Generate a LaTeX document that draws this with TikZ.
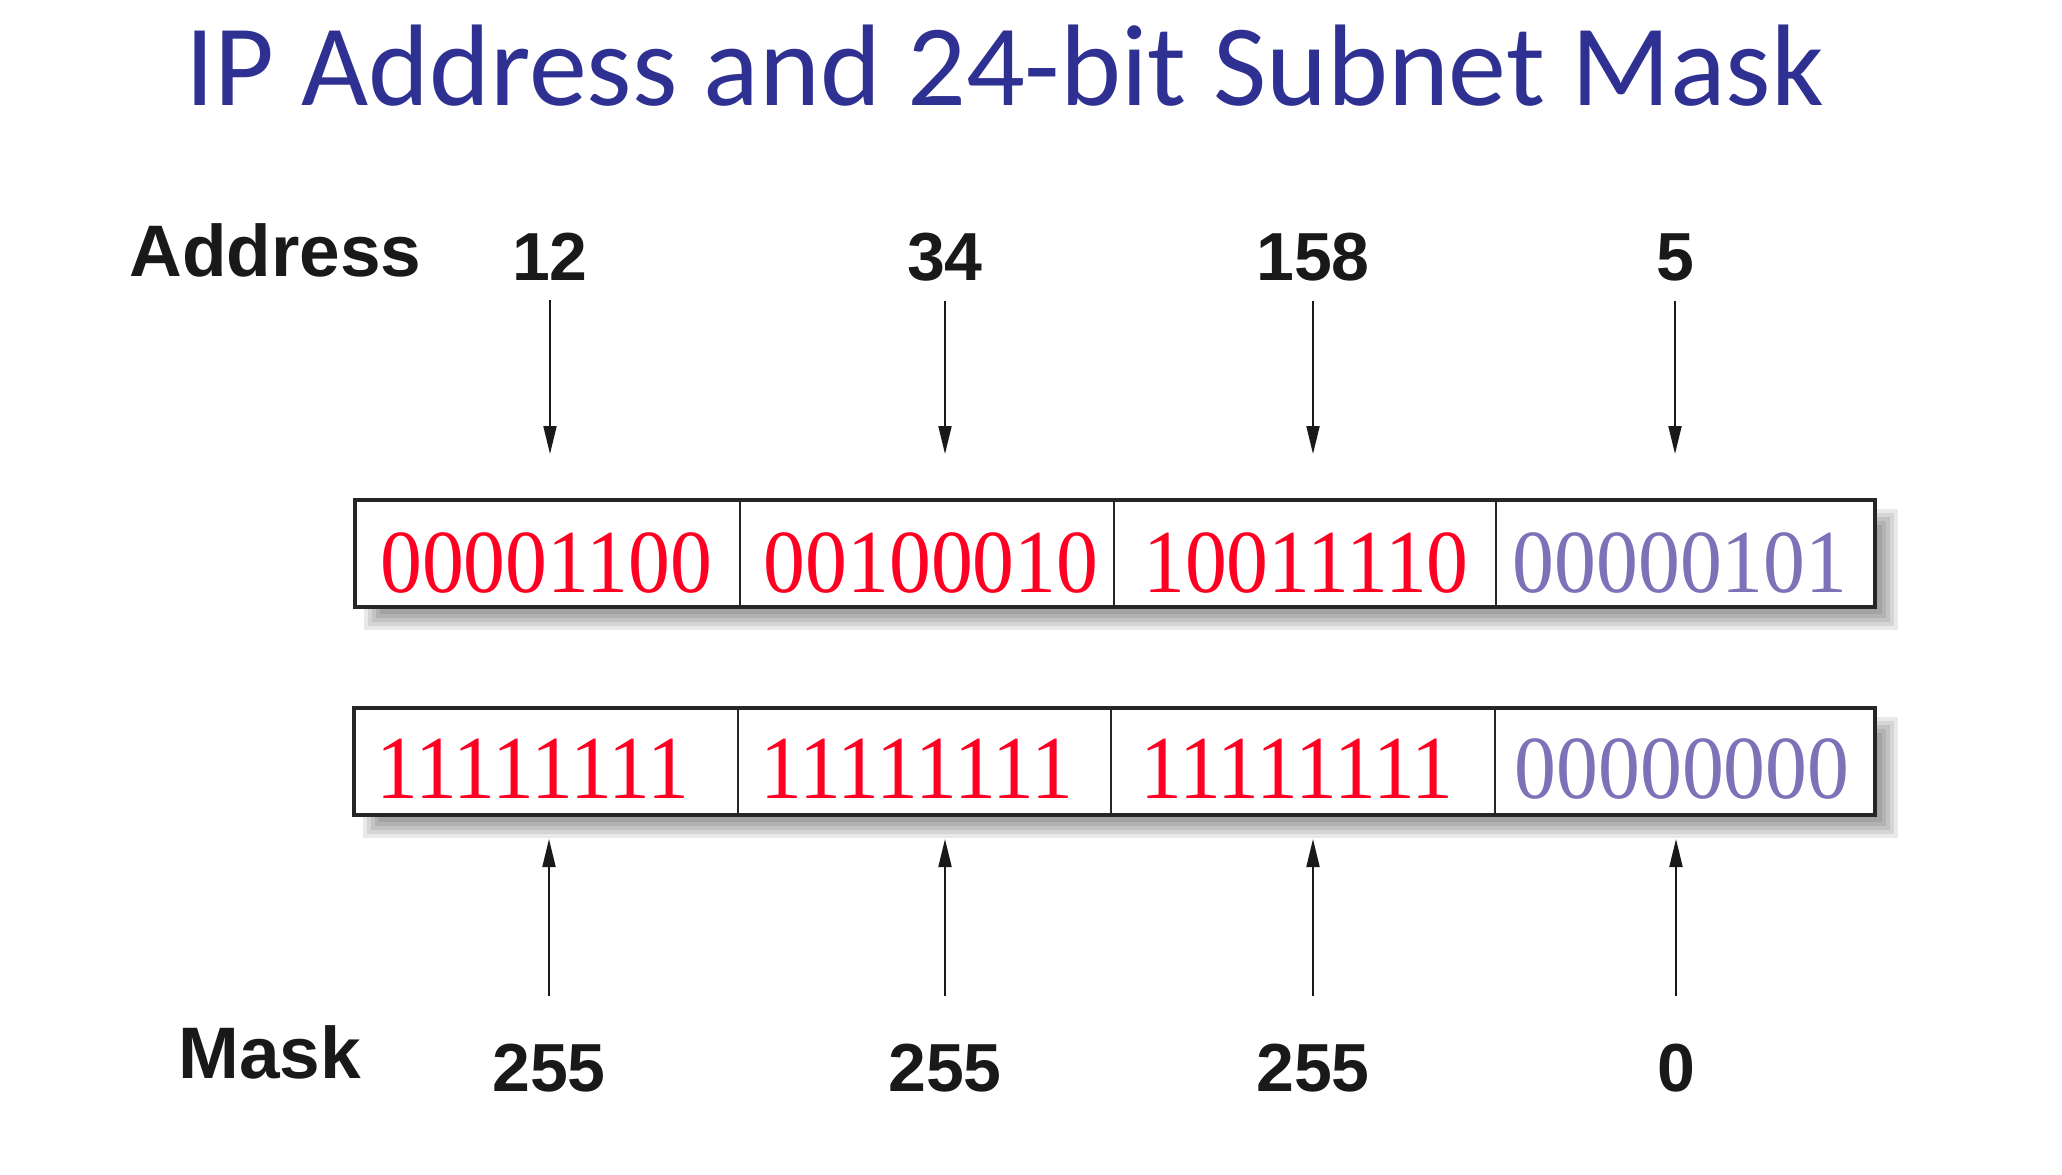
\documentclass[tikz,border=0pt]{standalone}
\usepackage{fontspec}
\setmainfont{Liberation Sans}
\newfontfamily\titlefont{Carlito}
\newfontfamily\binfont[FakeStretch=0.93]{Liberation Serif}
\usetikzlibrary{arrows.meta}
\definecolor{titleblue}{HTML}{2E3192}
\definecolor{bitred}{HTML}{FF0022}
\definecolor{bitpurple}{HTML}{7B72B8}
\begin{document}
\begin{tikzpicture}[x=0.5pt,y=-0.5pt,
 cell/.style={draw=black!85, line width=1pt, fill=white, inner sep=0, minimum height=52.5pt},
 bits/.style={font=\binfont\fontsize{45}{45}\selectfont, anchor=base, inner sep=0},
 num/.style={font=\bfseries\fontsize{34}{34}\selectfont, anchor=base, inner sep=0, text=black!90},
 lab/.style={font=\bfseries\fontsize{36.5}{36.5}\selectfont, anchor=base west, inner sep=0, text=black!90},
 arr/.style={draw=black!90, line width=1pt, -{Triangle[length=14pt,width=6.5pt]}},
 frame/.style={draw=black!85, line width=1.6pt}]
\useasboundingbox (0,0) rectangle (2062,1174);
% title
\node[font=\titlefont\fontsize{58}{58}\selectfont, text=titleblue, anchor=base, inner sep=0] (title) at (1005,105) {IP Address and 24-bit Subnet Mask};
% shadows
\foreach \s in {-8,-4,0,4,8}{
  \fill[black, opacity=0.085] (372-\s,517-\s) rectangle (1890+\s,622+\s);
  \fill[black, opacity=0.085] (371-\s,725-\s) rectangle (1890+\s,830+\s);
}
% address cells
\node[cell, minimum width=192pt] (a1) at (548,553.5) {};
\node[cell, minimum width=187pt] (a2) at (927,553.5) {};
\node[cell, minimum width=191pt] (a3) at (1305,553.5) {};
\node[cell, minimum width=189pt] (a4) at (1685,553.5) {};
\draw[frame] (a1.north west) rectangle (a4.south east);
% mask cells
\node[cell, minimum width=191.5pt] (m1) at (546.5,761.5) {};
\node[cell, minimum width=186.5pt] (m2) at (924.5,761.5) {};
\node[cell, minimum width=192pt] (m3) at (1303,761.5) {};
\node[cell, minimum width=189.5pt] (m4) at (1684.5,761.5) {};
\draw[frame] (m1.north west) rectangle (m4.south east);
% bits
\node[bits, text=bitred] (ba1) at (546,592) {00001100};
\node[bits, text=bitred] (ba2) at (931,592) {00100010};
\node[bits, text=bitred] (ba3) at (1306,592) {10011110};
\node[bits, text=bitpurple] (ba4) at (1680,592) {00000101};
\node[bits, text=bitred] (bm1) at (533,798) {11111111};
\node[bits, text=bitred] (bm2) at (917,798) {11111111};
\node[bits, text=bitred] (bm3) at (1297,798) {11111111};
\node[bits, text=bitpurple] (bm4) at (1682,798) {00000000};
% labels
\node[lab] (addr) at (129,276) {Address};
\node[lab] (mask) at (178,1078) {Mask};
% address numbers
\node[num] (na1) at (550,280) {12};
\node[num] (na2) at (945,280) {34};
\node[num] (na3) at (1313,280) {158};
\node[num] (na4) at (1675,280) {5};
% mask numbers
\node[num] (nm1) at (549,1091) {255};
\node[num] (nm2) at (945,1091) {255};
\node[num] (nm3) at (1313,1091) {255};
\node[num] (nm4) at (1676,1091) {0};
% arrows
\foreach \i in {1,2,3,4}{
  \draw[arr] ([yshift=-10pt]na\i.south) -- ([yshift=23pt]na\i.south |- a1.north);
  \draw[arr] ([yshift=23.5pt]nm\i.north) -- ([yshift=-12pt]nm\i.north |- m1.south);
}
\end{tikzpicture}
\end{document}
